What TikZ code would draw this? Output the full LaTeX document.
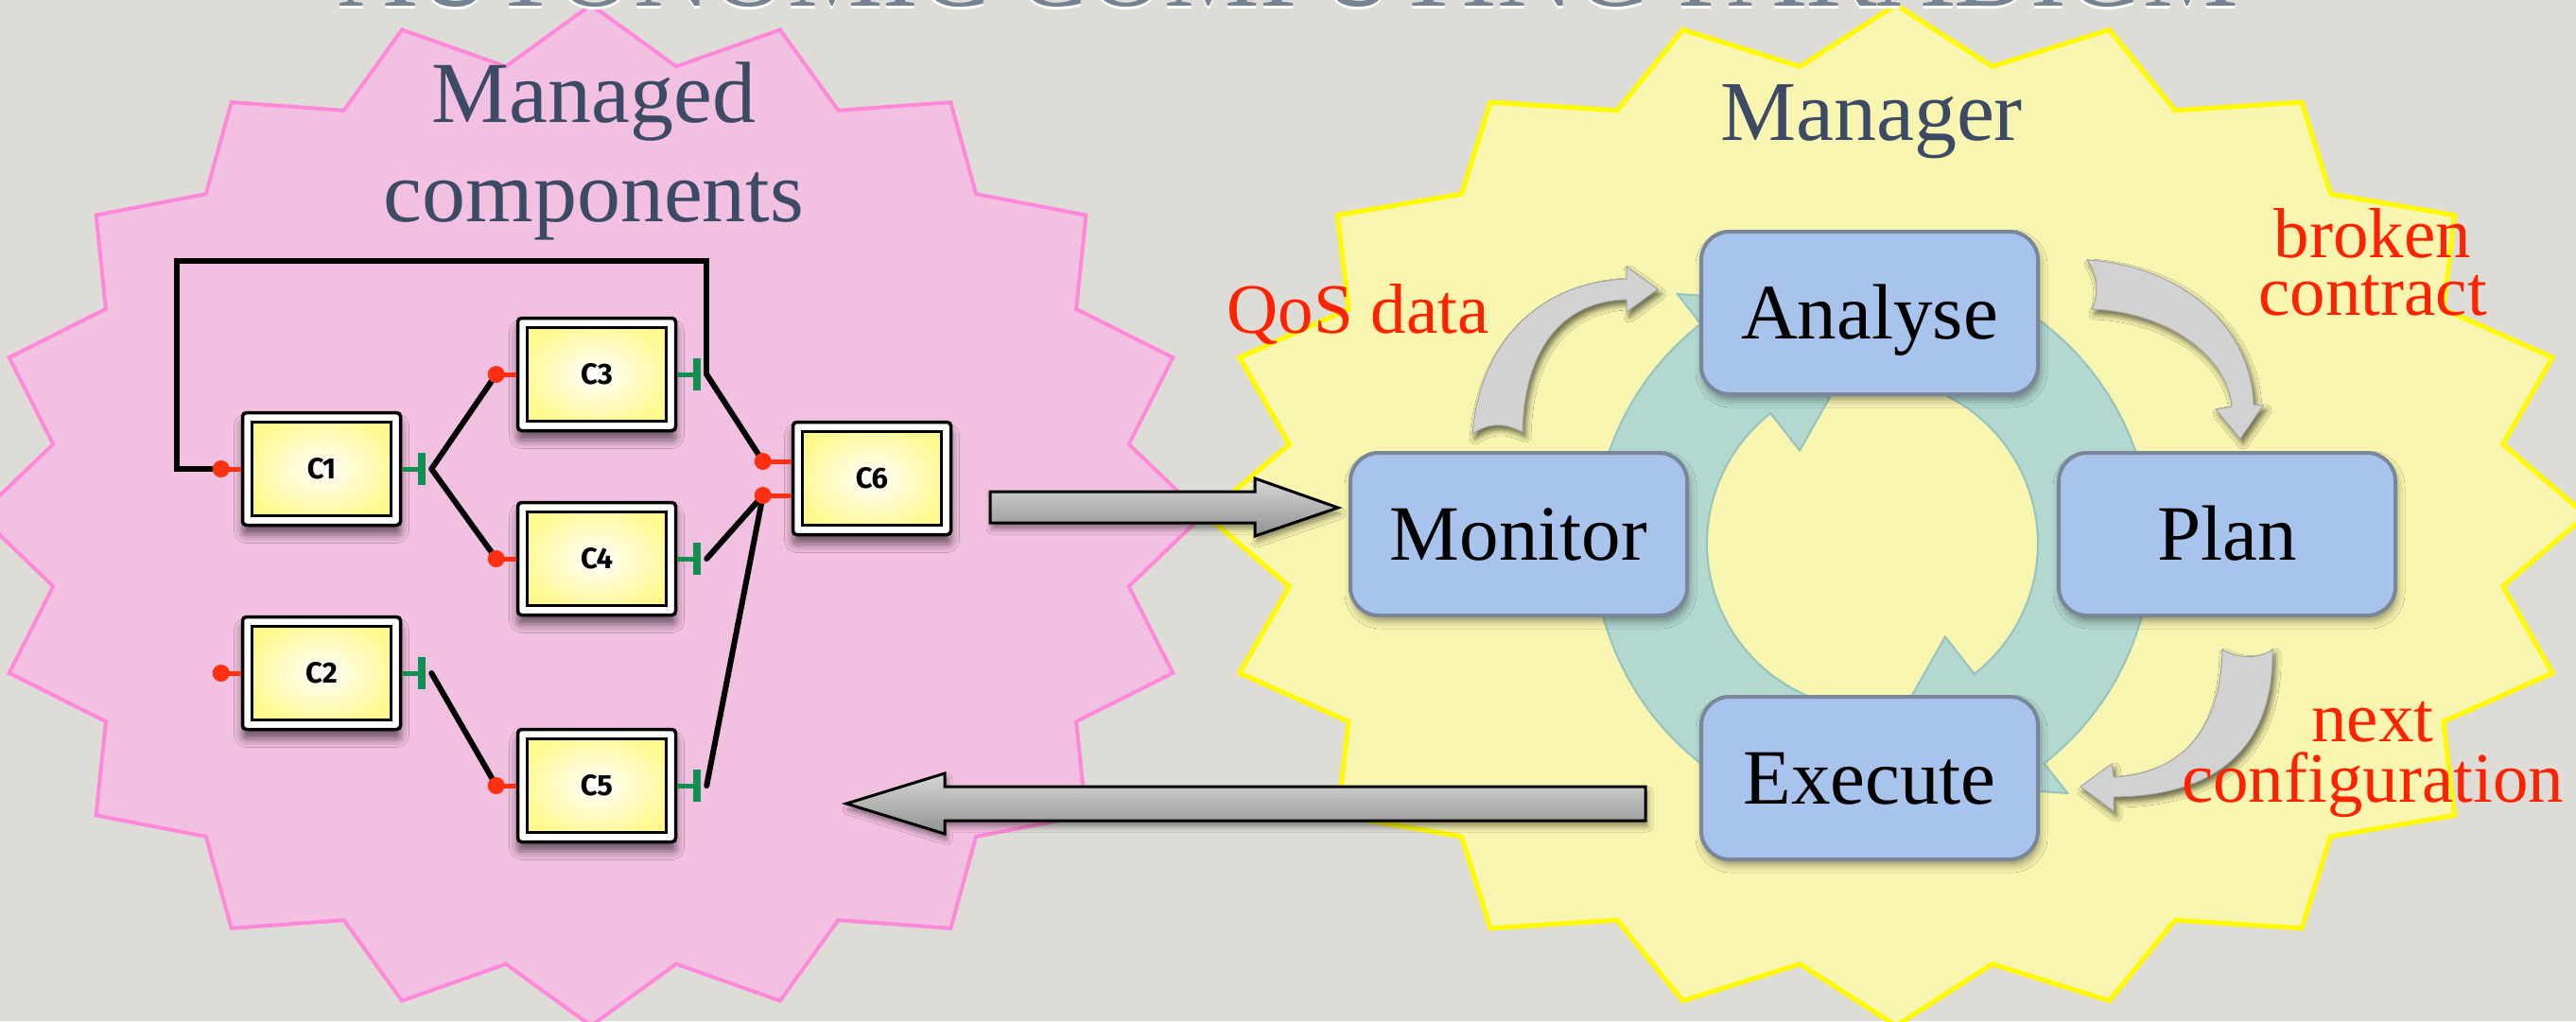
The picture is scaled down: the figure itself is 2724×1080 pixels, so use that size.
\documentclass[tikz,border=0pt]{standalone}
\usepackage{fontspec}
\setmainfont{Liberation Serif}
\newfontfamily\compfont{Fira Sans}
\usetikzlibrary{calc,shadows.blur}
\definecolor{bgcol}{RGB}{222,220,214}
\definecolor{pinkfill}{RGB}{242,192,224}
\definecolor{pinkedge}{RGB}{255,136,216}
\definecolor{yelfill}{RGB}{248,245,176}
\definecolor{yeledge}{RGB}{255,250,0}
\definecolor{slate}{RGB}{60,74,102}
\definecolor{titlecol}{RGB}{118,131,146}
\definecolor{labred}{RGB}{255,34,0}
\definecolor{boxblue}{RGB}{168,196,236}
\definecolor{boxedge}{RGB}{122,134,154}
\definecolor{ringcol}{RGB}{178,216,208}
\definecolor{ringedge}{RGB}{150,196,188}
\definecolor{compyel}{RGB}{255,248,140}
\definecolor{portred}{RGB}{255,48,16}
\definecolor{portgreen}{RGB}{16,144,80}
\definecolor{arrowgray}{RGB}{210,210,210}
\definecolor{arrowedge}{RGB}{165,165,165}
\definecolor{blocktop}{RGB}{215,215,215}
\definecolor{blockbot}{RGB}{145,145,145}

\tikzset{
  comp/.style={draw=black, line width=3.5pt, fill=white, rounded corners=4pt,
    minimum width=167pt, minimum height=119pt, inner sep=0pt,
    font=\compfont\bfseries\fontsize{31}{31}\selectfont,
    blur shadow={shadow xshift=0pt, shadow yshift=-10pt, shadow blur radius=9pt, shadow opacity=55},
    path picture={\draw[sharp corners, line width=3.5pt, inner color=white, outer color=compyel]
       ([shift={(10pt,-10pt)}]path picture bounding box.north west) rectangle
       ([shift={(-10pt,10pt)}]path picture bounding box.south east);}},
  mape/.style={draw=boxedge, line width=4pt, fill=boxblue, rounded corners=30pt,
    minimum width=356pt, minimum height=172pt, inner sep=0pt,
    font=\fontsize{83}{83}\selectfont, text height=55pt, text depth=0pt,
    blur shadow={shadow xshift=2pt, shadow yshift=-6pt, shadow blur radius=8pt, shadow opacity=40}},
  slatelab/.style={text=slate, font=\fontsize{92}{92}\selectfont, inner sep=0pt, anchor=base},
  redlab/.style={text=labred, inner sep=0pt, align=center},
  wire/.style={draw=black, line width=6pt, line cap=round, line join=miter},
  reqstem/.style={draw=portred, line width=5pt},
  blockarrow/.style={draw=black, line width=3pt, line join=miter, top color=blocktop, bottom color=blockbot,
    blur shadow={shadow xshift=2pt, shadow yshift=-6pt, shadow blur radius=6pt, shadow opacity=45}},
  grayarrow/.style={fill=arrowgray, draw=arrowedge, line width=1pt, line join=miter,
    blur shadow={shadow xshift=3pt, shadow yshift=-5pt, shadow blur radius=6pt, shadow opacity=60}},
  ring/.style={fill=ringcol, draw=ringedge, line width=2pt, line join=miter}
}

\newcommand\reqport[2]{% node, coordinate name
  \draw[reqstem] (#1.west |- #2) -- (#2);
  \fill[portred] (#2) circle[radius=9pt];}
\newcommand\provport[1]{%
  \draw[portgreen, line width=5pt] (#1.east) -- ++(21,0);
  \draw[portgreen, line width=8pt] ([xshift=21pt,yshift=17pt]#1.east) -- ([xshift=21pt,yshift=-17pt]#1.east);}

\begin{document}
\begin{tikzpicture}[x=1pt,y=-1pt]
\useasboundingbox (0,0) rectangle (2724,1080);
\clip (0,0) rectangle (2724,1080);
\fill[bgcol] (0,0) rectangle (2724,1080);

% star bursts
\filldraw[fill=pinkfill, draw=pinkedge, line width=4pt, line join=miter]
  (625,5) \foreach \k in {1,...,39} { -- ({625+(1-0.11*mod(\k,2))*647*cos(90-9*\k)},{545-(1-0.11*mod(\k,2))*540*sin(90-9*\k)}) } -- cycle;
\filldraw[fill=yelfill, draw=yeledge, line width=5pt, line join=miter]
  (2005,5) \foreach \k in {1,...,39} { -- ({2005+(1-0.11*mod(\k,2))*730*cos(90-9*\k)},{545-(1-0.11*mod(\k,2))*540*sin(90-9*\k)}) } -- cycle;

% region labels
\node[slatelab] (managed) at (628,129) {Managed};
\node[slatelab] (components) at (628,234) {components};
\node[slatelab, font=\fontsize{90}{90}\selectfont] (manager) at (1979,148) {Manager};

% components
\node[comp] (c1) at (340,496) {C1};
\node[comp] (c2) at (340,712) {C2};
\node[comp] (c3) at (631,396) {C3};
\node[comp] (c4) at (631,591) {C4};
\node[comp] (c5) at (631,831) {C5};
\node[comp] (c6) at (922,506) {C6};

% port coordinates
\coordinate (c1in) at ([xshift=-21pt]c1.west);
\coordinate (c2in) at ([xshift=-21pt]c2.west);
\coordinate (c3in) at ([xshift=-21pt]c3.west);
\coordinate (c4in) at ([xshift=-21pt]c4.west);
\coordinate (c5in) at ([xshift=-21pt]c5.west);
\coordinate (c6ina) at ([xshift=-30pt,yshift=18pt]c6.west);
\coordinate (c6inb) at ([xshift=-30pt,yshift=-18pt]c6.west);
\coordinate (c1out) at ([xshift=31pt]c1.east);
\coordinate (c2out) at ([xshift=31pt]c2.east);
\coordinate (c3out) at ([xshift=31pt]c3.east);
\coordinate (c4out) at ([xshift=31pt]c4.east);
\coordinate (c5out) at ([xshift=31pt]c5.east);
\coordinate (loopc) at (187,276);

% wires
\draw[wire] (c3out) |- (loopc) |- (c1in);
\draw[wire] (c1out) -- (c3in);
\draw[wire] (c1out) -- (c4in);
\draw[wire] (c3out) -- (c6ina);
\draw[wire] (c4out) -- (c6inb);
\draw[wire] (c5out) -- (c6inb);
\draw[wire] (c2out) -- (c5in);

% ports
\reqport{c1}{c1in}
\reqport{c2}{c2in}
\reqport{c3}{c3in}
\reqport{c4}{c4in}
\reqport{c5}{c5in}
\reqport{c6}{c6ina}
\reqport{c6}{c6inb}
\provport{c1}
\provport{c2}
\provport{c3}
\provport{c4}
\provport{c5}

% block arrows
\path[blockarrow] (1047,520) -- (1327,520) -- (1327,506) -- (1415,537) -- (1327,567) -- (1327,553) -- (1047,553) -- cycle;
\path[blockarrow] (1740,832) -- (999,832) -- (999,818) -- (895,850) -- (999,882) -- (999,868) -- (1740,868) -- cycle;

% cycle ring
\filldraw[ring]
  plot[domain=-255:-128, samples=40] ({1980+295*cos(\x)},{575+295*sin(\x)})
  -- ({1980+335*cos(-128)},{575+335*sin(-128)})
  -- ({1980+250*cos(-88)},{575+250*sin(-88)})
  -- ({1980+125*cos(-128)},{575+125*sin(-128)})
  -- plot[domain=-128:-255, samples=40] ({1980+175*cos(\x)},{575+175*sin(\x)})
  -- cycle;
\filldraw[ring]
  plot[domain=-75:52, samples=40] ({1980+295*cos(\x)},{575+295*sin(\x)})
  -- ({1980+335*cos(52)},{575+335*sin(52)})
  -- ({1980+250*cos(92)},{575+250*sin(92)})
  -- ({1980+125*cos(52)},{575+125*sin(52)})
  -- plot[domain=52:-75, samples=40] ({1980+175*cos(\x)},{575+175*sin(\x)})
  -- cycle;

% MAPE boxes
\node[mape] (analyse) at (1977,331) {Analyse};
\node[mape] (monitor) at (1606,565) {Monitor};
\node[mape] (plan) at (2355,565) {Plan};
\node[mape] (execute) at (1977,823) {Execute};

% curved grey arrows
\path[grayarrow] (1557,459) .. controls (1565,360) and (1630,298) .. (1720,295)
  -- (1720,282) -- (1753,306) -- (1720,330) -- (1720,317)
  .. controls (1660,318) and (1612,360) .. (1610,457)
  .. controls (1590,447) and (1575,447) .. (1557,459) -- cycle;
\path[grayarrow] (2207,275) .. controls (2300,280) and (2380,340) .. (2383,428)
  -- (2393,429) -- (2369,464) -- (2343,433) -- (2360,430)
  .. controls (2355,375) and (2290,330) .. (2212,327)
  .. controls (2220,310) and (2218,290) .. (2207,275) -- cycle;
\path[grayarrow] (2403,687) .. controls (2405,790) and (2345,842) .. (2235,843)
  -- (2235,858) -- (2200,832) -- (2233,808) -- (2235,822)
  .. controls (2300,818) and (2348,780) .. (2350,687)
  .. controls (2365,697) and (2390,697) .. (2403,687) -- cycle;

% red labels
\node[redlab, anchor=base, font=\fontsize{75}{75}\selectfont] (qos) at (1436,352) {QoS data};
\node[redlab, font=\fontsize{75}{61}\selectfont] (broken) at (2509,277) {broken\\contract};
\node[redlab, font=\fontsize{75}{64}\selectfont] (nextconf) at (2509,803) {next\\configuration};

% title (cut off at the top)
\node[anchor=base, inner sep=0pt, font=\fontsize{113}{113}\selectfont] (title) at (1363,6)
  {\rlap{\raisebox{-3pt}{\textcolor{white}{AUTONOMIC COMPUTING PARADIGM}}}\textcolor{titlecol}{AUTONOMIC COMPUTING PARADIGM}};
\end{tikzpicture}
\end{document}
